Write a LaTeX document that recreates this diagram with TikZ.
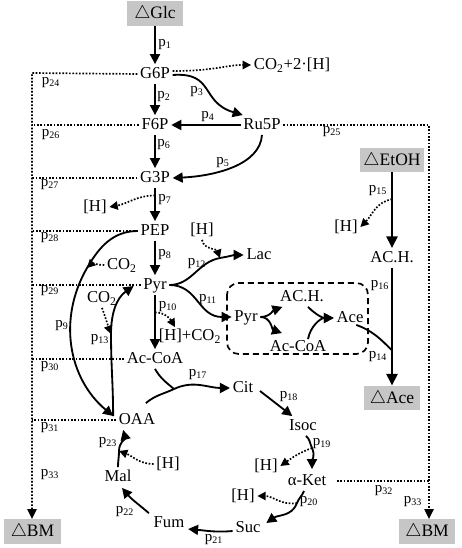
\documentclass[tikz,border=0pt]{standalone}
\usepackage{fontspec}
\setmainfont{Liberation Serif}
\usetikzlibrary{arrows.meta,calc}

\newcommand{\pf}[1]{p\textsubscript{#1}}

\tikzset{
	met/.style={inner sep=1.5pt,text height=7pt,text depth=1.5pt,font=\fontsize{10}{12}\selectfont},
	pool/.style={fill=gray!45,minimum width=34pt,minimum height=14.5pt,inner sep=2pt,text height=7.5pt,text depth=1pt,font=\fontsize{10.5}{12}\selectfont},
	plab/.style={inner sep=0pt,font=\fontsize{9}{10}\selectfont},
	flux/.style={line width=1.1pt,-{Triangle[length=6pt,width=6pt]}},
	thickflux/.style={line width=1.7pt,-{Triangle[length=7pt,width=6.5pt]}},
	joint/.style={line width=1.1pt},
	side/.style={line width=1pt,dash pattern=on 1pt off 1pt,-{Triangle[length=5pt,width=5pt]}},
	drain/.style={line width=1pt,dash pattern=on 1pt off 1pt},
	drainend/.style={drain,-{Triangle[length=6pt,width=5.5pt]}},
	inbox/.style={line width=1pt,dash pattern=on 3.6pt off 2.4pt,rounded corners=7pt}
}

\begin{document}
\begin{tikzpicture}[x=0.6pt,y=-0.6pt]
	\useasboundingbox (0,0) rectangle (461,548);
	
	% Define the pools
	\node[pool] (glc) at (155,13.5) {$\triangle$Glc};
	\node[pool] (etoh) at (392,160) {$\triangle$EtOH};
	\node[pool] (ace) at (392,398) {$\triangle$Ace};
	\node[pool] (bml) at (32.5,531.5) {$\triangle$BM};
	\node[pool] (bmr) at (427,531.5) {$\triangle$BM};
	
	% Define the metabolites
	\node[met] (g6p) at (155,74) {G6P};
	\node[met] (f6p) at (155,125) {F6P};
	\node[met] (g3p) at (155,178) {G3P};
	\node[met] (pep) at (155,231) {PEP};
	\node[met] (pyr) at (155,285) {Pyr};
	\node[met] (accoa) at (155,359) {Ac-CoA};
	\node[met] (oaa) at (137,420) {OAA};
	\node[met] (ru5p) at (262,125) {Ru5P};
	\node[met] (lac) at (259,255) {Lac};
	\node[met] (ach) at (392,258) {AC.H.};
	\node[met] (cit) at (243,388) {Cit};
	\node[met] (isoc) at (303,426) {Isoc};
	\node[met] (aket) at (307,481) {α-Ket};
	\node[met] (suc) at (248,528) {Suc};
	\node[met] (fum) at (169,523) {Fum};
	\node[met] (mal) at (118,477) {Mal};
	
	% Define the inner box
	\draw[inbox] (227,283) rectangle (368,354);
	\node[met] (pyri) at (246,317) {Pyr};
	\node[met] (achi) at (302,297) {AC.H.};
	\node[met] (acei) at (350,318) {Ace};
	\node[met] (accoai) at (298,347) {Ac-CoA};
	
	% Define the by-products
	\node[met] (co2h) at (292,65) {CO\textsubscript{2}+2·[H]};
	\node[met] (h1) at (95,207) {[H]};
	\node[met] (co2a) at (122,265) {CO\textsubscript{2}};
	\node[met] (co2b) at (102,298) {CO\textsubscript{2}};
	\node[met] (h3) at (202,230) {[H]};
	\node[met] (hco2) at (190,336) {[H]+CO\textsubscript{2}};
	\node[met] (h5) at (346,227) {[H]};
	\node[met] (h6) at (168,464) {[H]};
	\node[met] (h7) at (266,466) {[H]};
	\node[met] (h8) at (243,496) {[H]};
	
	% Define the junctions
	\coordinate (j7) at ($(g3p)!0.33!(pep)$);
	\coordinate (j10) at ($(pyr)!0.37!(accoa)$);
	\coordinate (j15) at ($(etoh)!0.4!(ach)$);
	\coordinate (j14) at ($(ach)!0.66!(ace)$);
	\coordinate (oaain) at ($(oaa.west)+(-3,-4)$);
	\coordinate (oaaout) at ($(oaa.north east)+(-12,-7)$);
	\coordinate (j9) at (87,268);
	\coordinate (j13) at (111,334);
	\coordinate (j12) at (220,258);
	\coordinate (j17) at (174,389);
	\coordinate (j19) at (312,448);
	\coordinate (j20) at (297,503);
	\coordinate (j23) at (119,451);
	
	% Draw the main chain
	\draw[flux] (glc) -- (g6p);
	\draw[flux] (g6p) -- (f6p);
	\draw[flux] (f6p) -- (g3p);
	\draw[flux] (g3p) -- (pep);
	\draw[flux] (pep) -- (pyr);
	\draw[flux] (pyr) -- (accoa);
	
	% Draw the pentose branch
	\draw[flux] ($(g6p.east)+(0,1)$) .. controls (215,72) and (200,102) .. ($(ru5p.north west)+(2,0)$);
	\draw[flux] (ru5p) -- (f6p);
	\draw[flux] (ru5p.south) .. controls (260,165) and (215,176) .. (g3p.east);
	\draw[side] ($(g6p.east)+(0,-3)$) .. controls (215,71) and (225,65) .. (co2h.west);
	\draw[side] (j7) to[out=180,in=10] (h1.east);
	
	% Draw the pyruvate branches
	\draw[flux] (pep.west) to[out=180,in=60] (j9) to[out=240,in=140] (oaain);
	\draw[flux] (oaain) to[out=90,in=-90] (j13) to[out=90,in=215] ($(pyr.west)+(-7,1)$);
	\draw[side] (co2a.west) to[out=180,in=45] (j9);
	\draw[side] (co2b.south) to[out=-70,in=110] (j13);
	\draw[flux] (pyr.east) to[out=0,in=190] (j12) to[out=10,in=180] (lac.west);
	\draw[side] (h3.south) to[out=-80,in=110] (j12);
	\draw[flux] (pyr.east) .. controls (198,285) and (198,317) .. (pyri.west);
	\draw[side] (j10) to[out=0,in=120] ($(hco2.north west)+(19,1)$);
	
	% Draw the inner box reactions
	\draw[flux] (pyri.east) to[out=0,in=200] ($(achi.south west)+(5,0)$);
	\draw[flux] (pyri.east) to[out=0,in=160] ($(accoai.north west)+(15,-4)$);
	\draw[flux] ($(achi.south)+(6,0)$) to[out=-45,in=180] (acei.west);
	\draw[flux] ($(accoai.north)+(10,2)$) to[out=80,in=180] (acei.west);
	
	% Draw the ethanol chain
	\draw[thickflux] (etoh) -- (ach);
	\draw[thickflux] (ach) -- (ace);
	\draw[side] (j15) to[out=190,in=45] (h5.east);
	\draw[joint] ($(acei.south east)+(-10,-3)$) to[out=-20,in=135] (j14);
	
	% Draw the TCA cycle
	\draw[flux] (oaaout) to[out=40,in=205] (j17) to[out=25,in=180] (cit.west);
	\draw[joint] (accoa.south) to[out=-60,in=140] (j17);
	\draw[flux] ($(cit.east)+(4,3)$) -- ($(isoc.north west)+(6,0)$);
	\draw[flux] ($(isoc.south)+(3,0)$) to[out=-40,in=115] (j19) to[out=-65,in=90] ($(aket.north)+(5,-2)$);
	\draw[side] (j19) to[out=200,in=35] (h7.east);
	\draw[flux] ($(aket.south)+(-3,0)$) to[out=-110,in=70] (j20) to[out=-110,in=35] ($(suc.east)+(3,-5)$);
	\draw[side] (j20) to[out=190,in=0] (h8.east);
	\draw[flux] ($(suc.west)+(0,3)$) to[out=185,in=-5] ($(fum.east)+(1,6)$);
	\draw[flux] ($(fum.north west)+(-2,0)$) to[out=140,in=-50] ($(mal.south)+(4,1)$);
	\draw[flux] (mal.north) to[out=90,in=-90] (j23) to[out=90,in=-75] ($(oaa.south west)+(7,0)$);
	\draw[side] (h6.west) to[out=180,in=-20] (j23);
	
	% Draw the biomass drains
	\coordinate (bmtop) at (32,73);
	\draw[drainend] (g6p.west) -- (bmtop) -- (bmtop |- bml.north);
	\draw[drain] (f6p.west) -- (f6p.west -| bmtop);
	\draw[drain] (g3p.west) -- (g3p.west -| bmtop);
	\draw[drain] (pep.west) -- (pep.west -| bmtop);
	\draw[drain] (pyr.west) -- (pyr.west -| bmtop);
	\draw[drain] (accoa.west) -- (accoa.west -| bmtop);
	\draw[drain] (oaa.west) -- (oaa.west -| bmtop);
	\coordinate (bmrtop) at (429,125);
	\draw[drainend] (ru5p.east) -- (bmrtop) -- (bmrtop |- bmr.north);
	\draw[drain] ($(aket.east)+(8,0)$) -- (aket.east -| bmrtop);
	
	% Label the fluxes
	\node[plab] (l1) at (165,45) {\pf{1}};
	\node[plab] (l2) at (164,97) {\pf{2}};
	\node[plab] (l3) at (197,92) {\pf{3}};
	\node[plab] (l4) at (208,117) {\pf{4}};
	\node[plab] (l5) at (223,163) {\pf{5}};
	\node[plab] (l6) at (164,145) {\pf{6}};
	\node[plab] (l7) at (165,200) {\pf{7}};
	\node[plab] (l8) at (165,255) {\pf{8}};
	\node[plab] (l9) at (62,326) {\pf{9}};
	\node[plab] (l10) at (168,307) {\pf{10}};
	\node[plab] (l11) at (208,300) {\pf{11}};
	\node[plab] (l12) at (197,264) {\pf{12}};
	\node[plab] (l13) at (100,340) {\pf{13}};
	\node[plab] (l14) at (378,357) {\pf{14}};
	\node[plab] (l15) at (378,191) {\pf{15}};
	\node[plab] (l16) at (380,286) {\pf{16}};
	\node[plab] (l17) at (198,375) {\pf{17}};
	\node[plab] (l18) at (289,397) {\pf{18}};
	\node[plab] (l19) at (322,444) {\pf{19}};
	\node[plab] (l20) at (309,502) {\pf{20}};
	\node[plab] (l21) at (214,540) {\pf{21}};
	\node[plab] (l22) at (125,512) {\pf{22}};
	\node[plab] (l23) at (108,443) {\pf{23}};
	\node[plab] (l24) at (51,83) {\pf{24}};
	\node[plab] (l25) at (332,132) {\pf{25}};
	\node[plab] (l26) at (51,135) {\pf{26}};
	\node[plab] (l27) at (50,185) {\pf{27}};
	\node[plab] (l28) at (50,238) {\pf{28}};
	\node[plab] (l29) at (50,291) {\pf{29}};
	\node[plab] (l30) at (50,367) {\pf{30}};
	\node[plab] (l31) at (50,428) {\pf{31}};
	\node[plab] (l32) at (384,491) {\pf{32}};
	\node[plab] (l33a) at (50,475) {\pf{33}};
	\node[plab] (l33b) at (413,502) {\pf{33}};
	
\end{tikzpicture}
\end{document}
